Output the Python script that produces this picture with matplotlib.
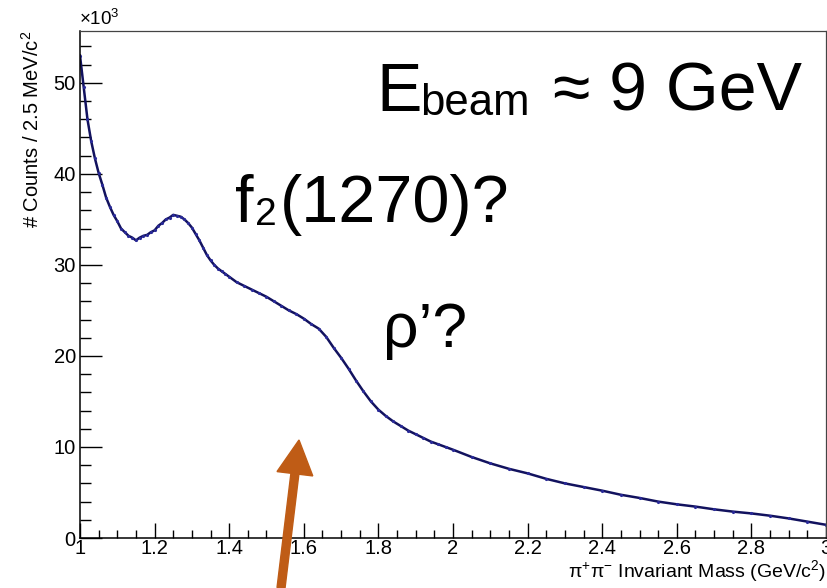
import numpy as np
import matplotlib
matplotlib.use("Agg")
import matplotlib.pyplot as plt
from matplotlib.patches import FancyArrow
from matplotlib.transforms import IdentityTransform
from matplotlib.ticker import MultipleLocator

plt.rcParams['font.family'] = ['Liberation Sans', 'DejaVu Sans']
plt.rcParams['mathtext.default'] = 'regular'

# pi+ pi- invariant mass spectrum (counts per 2.5 MeV, in units of 10^3)
mass = [1.00, 1.01, 1.02, 1.03, 1.04, 1.05, 1.06, 1.07, 1.08, 1.09,
        1.10, 1.11, 1.12, 1.13, 1.14, 1.15, 1.16, 1.17, 1.18, 1.19,
        1.20, 1.21, 1.22, 1.23, 1.24, 1.25, 1.26, 1.27, 1.28, 1.29,
        1.30, 1.31, 1.32, 1.33, 1.34, 1.35, 1.36, 1.37, 1.38, 1.39,
        1.40, 1.42, 1.44, 1.46, 1.48, 1.50, 1.52, 1.54, 1.56, 1.58,
        1.60, 1.62, 1.64, 1.66, 1.68, 1.70, 1.72, 1.74, 1.76, 1.78,
        1.80, 1.82, 1.84, 1.86, 1.88, 1.90, 1.92, 1.94, 1.96, 1.98,
        2.00, 2.05, 2.10, 2.15, 2.20, 2.25, 2.30, 2.35, 2.40, 2.45,
        2.50, 2.55, 2.60, 2.65, 2.70, 2.75, 2.80, 2.85, 2.90, 2.95, 3.00]
counts_k = [53.0, 49.5, 46.0, 43.6, 41.7, 40.1, 38.8, 37.4, 36.4, 35.5,
            34.8, 34.0, 33.6, 33.2, 33.0, 32.7, 33.0, 33.2, 33.3, 33.6,
            33.8, 34.3, 34.6, 35.0, 35.2, 35.5, 35.4, 35.3, 35.0, 34.6,
            34.1, 33.4, 32.7, 31.9, 31.1, 30.5, 30.0, 29.6, 29.3, 29.0,
            28.7, 28.1, 27.7, 27.3, 26.9, 26.5, 26.0, 25.5, 25.0, 24.6,
            24.1, 23.5, 23.0, 22.1, 20.9, 19.8, 18.6, 17.3, 16.1, 15.0,
            14.1, 13.4, 12.8, 12.3, 11.8, 11.4, 11.0, 10.6, 10.3, 10.0,
            9.7, 8.9, 8.2, 7.6, 7.1, 6.5, 6.0, 5.6, 5.2, 4.75,
            4.4, 4.0, 3.7, 3.45, 3.15, 2.9, 2.7, 2.45, 2.15, 1.8, 1.45]

fig = plt.figure(figsize=(8.28, 5.88), dpi=100)
ax = fig.add_axes([80/828, 50/588, 746/828, 507/588])

ax.plot(mass, counts_k, color='#12125e', lw=1.8, marker='.', ms=2.5,
        mec='#2a2a9a', mfc='#12125e')

ax.set_xlim(1, 3)
ax.set_ylim(0, 55.7)

ax.xaxis.set_major_locator(MultipleLocator(0.2))
ax.xaxis.set_minor_locator(MultipleLocator(0.05))
ax.yaxis.set_major_locator(MultipleLocator(10))
ax.yaxis.set_minor_locator(MultipleLocator(2))
ax.tick_params(which='both', direction='in', top=False, right=False,
               labelsize=14.5, width=1.0, color='black')
ax.tick_params(axis='y', which='major', length=16, pad=3)
ax.tick_params(axis='y', which='minor', length=8)
ax.tick_params(axis='x', which='major', length=11, pad=1)
ax.tick_params(axis='x', which='minor', length=5.5)
ax.xaxis.set_major_formatter(plt.FuncFormatter(lambda v, p: f'{v:g}'))

for side in ['left', 'bottom']:
    ax.spines[side].set_linewidth(1.1)
for side in ['top', 'right']:
    ax.spines[side].set_linewidth(0.9)
    ax.spines[side].set_color('#444444')

ax.set_ylabel('# Counts / 2.5 MeV/c$^{2}$', fontsize=14.5, loc='top', labelpad=8)
ax.set_xlabel(r'$\pi^{+}\pi^{-}$ Invariant Mass (GeV/c$^{2}$)', fontsize=14,
              loc='right', labelpad=0)
fig.text(79/828, 1 - 25/588, r'$\times10^{3}$', fontsize=13.5)

# annotations placed in figure pixel coordinates
def px(x, y):
    return x / 828, 1 - y / 588

fig.text(*px(376, 111), 'E', fontsize=49, va='baseline')
fig.text(*px(420, 115), 'beam', fontsize=31.5, va='baseline')
fig.text(*px(553, 111), '≈ 9 GeV', fontsize=49, va='baseline')

fig.text(*px(235, 222), 'f', fontsize=48, va='baseline')
fig.text(*px(255, 225), '2', fontsize=28, va='baseline')
fig.text(*px(280, 222), '(1270)?', fontsize=48, va='baseline')

fig.text(*px(383, 347), 'ρ’?', fontsize=45, va='baseline')

arrow = FancyArrow(281, 0, 18, 588 - 440, width=8, head_width=36,
                   head_length=34, length_includes_head=True,
                   color='#bf5c16', transform=IdentityTransform())
fig.add_artist(arrow)

fig.savefig('out.png', dpi=100)
